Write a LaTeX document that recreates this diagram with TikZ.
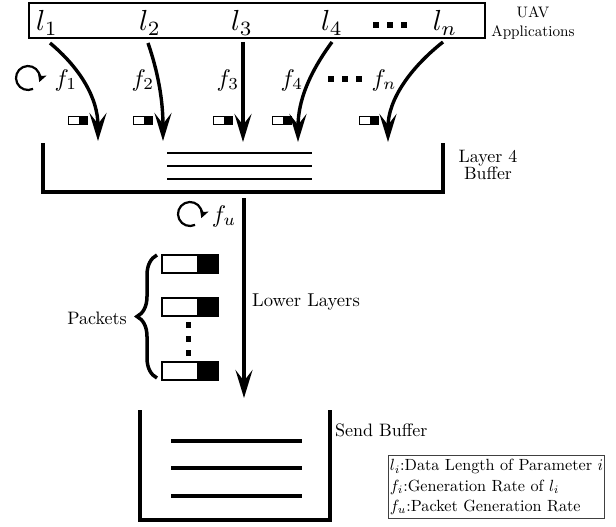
\documentclass[tikz,border=0pt]{standalone}
\usepackage{graphicx}
\usetikzlibrary{arrows.meta,decorations.pathreplacing}
\newcommand{\sbx}[2]{\scalebox{#1}{#2}}
\begin{document}
\begin{tikzpicture}[x=1pt,y=-1pt,
  flow/.style={line width=3.4pt,-{Stealth[length=28pt,width=17pt,inset=11pt]}},
  wall/.style={line width=3.5pt,line join=miter},
  fill line/.style={line width=2.7pt},
  loop/.style={line width=2.2pt,-{Stealth[length=8.5pt,width=9pt,inset=2pt]}},
  lbl/.style={inner sep=0pt,anchor=base},
  legend/.style={draw=black!75,line width=0.9pt,inner xsep=1.5pt,inner ysep=1pt,align=left}]
\useasboundingbox (0,0) rectangle (616,527);

% application box
\node[draw,line width=2pt,minimum width=456pt,minimum height=35pt,inner sep=0pt] (apps) at (257,20.5) {};
\node[lbl] (l1) at (47,31) {\sbx{2.9}{$l_1$}};
\node[lbl] (l2) at (150,31) {\sbx{2.9}{$l_2$}};
\node[lbl] (l3) at (242,31) {\sbx{2.9}{$l_3$}};
\node[lbl] (l4) at (332,31) {\sbx{2.9}{$l_4$}};
\node[lbl] (ln) at (445,31) {\sbx{2.9}{$l_n$}};
\foreach \x in {376,390,404} \fill (\x-2.6,22.5) rectangle (\x+2.6,27.7);
\node[lbl] (uav) at (533,18) {\sbx{1.52}{UAV}};
\node[lbl] (appl) at (533,37) {\sbx{1.52}{Applications}};

% rates
\node[lbl] (f1) at (66,86) {\sbx{2.4}{$f_1$}};
\node[lbl] (f2) at (143,86) {\sbx{2.4}{$f_2$}};
\node[lbl] (f3) at (228,86) {\sbx{2.4}{$f_3$}};
\node[lbl] (f4) at (292,86) {\sbx{2.4}{$f_4$}};
\node[lbl] (fn) at (384,86) {\sbx{2.4}{$f_n$}};
\foreach \x in {331,345,359} \fill (\x-2.6,76.5) rectangle (\x+2.6,81.7);
\draw[loop] (28,78) ++(65:12) arc[start angle=65,end angle=380,radius=12];

% arrows from applications
\coordinate (s1) at (50,43);  \coordinate (t1) at (98,141);
\coordinate (s2) at (148,43); \coordinate (t2) at (163,141);
\coordinate (s3) at (243,42); \coordinate (t3) at (243,142);
\coordinate (s4) at (332,42); \coordinate (t4) at (298,142);
\coordinate (sn) at (443,42); \coordinate (tn) at (388,142);
\draw[flow] (s1) .. controls (80,68) and (98,98) .. (t1);
\draw[flow] (s2) .. controls (158,72) and (163,100) .. (t2);
\draw[flow] (s3) -- (t3);
\draw[flow] (s4) .. controls (310,72) and (298,100) .. (t4);
\draw[flow] (sn) .. controls (410,68) and (388,100) .. (tn);

% small packets
\foreach \x in {68,133,213,272,359} {
  \draw[line width=0.9pt] (\x,116) rectangle (\x+19,124);
  \fill (\x+11,116) rectangle (\x+19,124);
}

% layer 4 buffer
\draw[wall] (43,143) -- (43,192) -- (443,192) -- (443,143);
\foreach \y in {153,166,179} \draw[fill line] (167,\y) -- (312,\y);
\node[lbl] (l4bufa) at (488,162) {\sbx{1.8}{Layer 4}};
\node[lbl] (l4bufb) at (488,179) {\sbx{1.78}{Buffer}};

% lower layers arrow
\coordinate (down1) at (244,198);
\coordinate (down2) at (244,398);
\draw[flow] (down1) -- (down2);
\draw[loop] (190,214) ++(65:12) arc[start angle=65,end angle=380,radius=12];
\node[lbl] (fu) at (224,222) {\sbx{2.4}{$f_u$}};
\node[lbl,anchor=base west] (lower) at (252,306) {\sbx{1.86}{Lower Layers}};

% big packets
\foreach \y in {255,298,362} {
  \draw[line width=1.8pt] (162,\y) rectangle (218,\y+18);
  \fill (197,\y) rectangle (218,\y+18);
}
\foreach \y in {325,339,353} \fill (185.5,\y-2.6) rectangle (190.5,\y+2.6);
\draw[decorate,decoration={brace,amplitude=20pt},line width=3.5pt] (157,378) -- (157,255);
\node[lbl,anchor=base east] (packets) at (127,324) {\sbx{1.8}{Packets}};

% send buffer
\draw[wall] (140,410) -- (140,520) -- (330,520) -- (330,410);
\foreach \y in {441,468,496} \draw[line width=3.2pt] (171,\y) -- (302,\y);
\node[lbl,anchor=base west] (sendbuf) at (335,436) {\sbx{1.8}{Send Buffer}};

% legend
\node[legend,anchor=north west] (leg) at (388,455) {\sbx{1.62}{\fontsize{10}{12.6}\selectfont\begin{tabular}{@{}l@{}}$l_i$:Data Length of Parameter $i$\\$f_i$:Generation Rate of $l_i$\\$f_u$:Packet Generation Rate\end{tabular}}};
\end{tikzpicture}
\end{document}
